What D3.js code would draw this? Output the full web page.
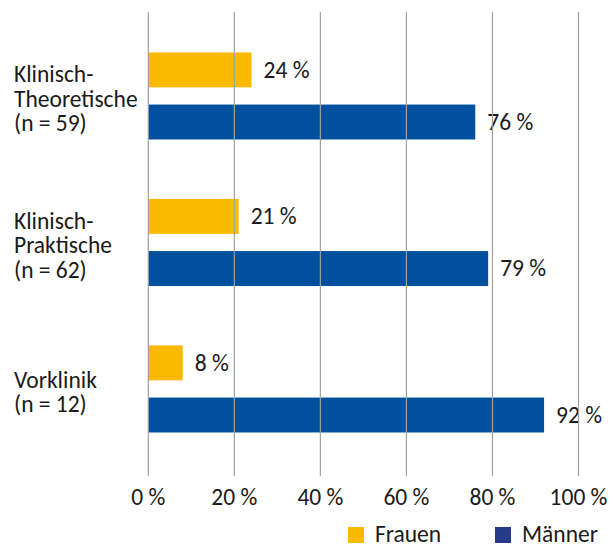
<!DOCTYPE html>
<html>
<head>
<meta charset="utf-8">
<script src="https://cdn.jsdelivr.net/npm/d3@7"></script>
<style>
  body { margin: 0; background: #fff; }
  svg text { font-family: Carlito, Calibri, Lato, sans-serif; fill: #1a1a1a; }
</style>
</head>
<body>
<div id="chart"></div>
<script>
// Data
const categories = ["Klinisch-Theoretische", "Klinisch-Praktische", "Vorklinik"];
const categoryLines = [
  ["Klinisch-", "Theoretische", "(n = 59)"],
  ["Klinisch-", "Praktische", "(n = 62)"],
  ["Vorklinik", "(n = 12)"]
];
const seriesNames = ["Frauen", "Männer"];
const frauen = [24, 21, 8];
const maenner = [76, 79, 92];
const xTicks = [0, 20, 40, 60, 80, 100];

const barColors = { "Frauen": "#fbb900", "Männer": "#00509e" };
const legendColors = { "Frauen": "#fbb900", "Männer": "#283a8c" };

const width = 613, height = 546;
const fontSize = "23.5px";

const svg = d3.select("#chart").append("svg")
  .attr("width", width)
  .attr("height", height);

const xScale = d3.scaleLinear()
  .domain([0, 100])
  .range([148.3, 578.5]);

const yScale = d3.scaleBand()
  .domain(categories)
  .range([22.7, 462.2]);

const yInner = d3.scaleBand()
  .domain(seriesNames)
  .range([0, yScale.bandwidth()])
  .paddingInner(0.33)
  .paddingOuter(0.57);

const gridTop = 12, gridBottom = 476;

// Rows of data
const rows = categories.map((c, i) => ({
  cat: c,
  values: [
    { name: "Frauen", value: frauen[i] },
    { name: "Männer", value: maenner[i] }
  ]
}));

// Bars
const groups = svg.selectAll(".group")
  .data(rows)
  .enter().append("g")
    .attr("class", "group")
    .attr("transform", d => `translate(0 ${ yScale(d.cat) })`);

groups.selectAll("rect.bar")
  .data(d => d.values)
  .enter().append("rect")
    .attr("class", "bar")
    .attr("x", xScale(0))
    .attr("y", d => yInner(d.name))
    .attr("width", d => xScale(d.value) - xScale(0))
    .attr("height", yInner.bandwidth())
    .attr("fill", d => barColors[d.name]);

// Gridlines over the bars
svg.append("g")
  .selectAll("line")
  .data(xTicks)
  .enter().append("line")
    .attr("x1", d => xScale(d))
    .attr("x2", d => xScale(d))
    .attr("y1", gridTop)
    .attr("y2", gridBottom)
    .attr("stroke", "#a0a0a0")
    .attr("stroke-width", 1.2);

// Value labels with white box behind
const labels = groups.selectAll("g.lbl")
  .data(d => d.values)
  .enter().append("g")
    .attr("class", "lbl")
    .attr("transform", d => `translate(${ xScale(d.value) + 12 } ${ yInner(d.name) + yInner.bandwidth() / 2 })`);

labels.append("text")
  .attr("x", 0)
  .attr("y", 0)
  .attr("dy", "0.33em")
  .style("font-size", fontSize)
  .text(d => d.value + " %");

labels.each(function() {
  const g = d3.select(this);
  const bb = g.select("text").node().getBBox();
  g.insert("rect", "text")
    .attr("x", bb.x - 5)
    .attr("y", -21)
    .attr("width", bb.width + 8)
    .attr("height", 42)
    .attr("fill", "#fff");
});

// Category labels
rows.forEach((r, i) => {
  const lines = categoryLines[i];
  const center = yScale(r.cat) + yScale.bandwidth() / 2 + 11;
  const t = svg.append("text")
    .attr("x", 14)
    .style("font-size", fontSize);
  lines.forEach((ln, j) => {
    t.append("tspan")
      .attr("x", 14)
      .attr("y", center + (j - (lines.length - 1) / 2) * 24.5)
      .text(ln);
  });
});

// X tick labels
svg.append("g")
  .selectAll("text")
  .data(xTicks)
  .enter().append("text")
    .attr("x", d => xScale(d))
    .attr("y", 505)
    .attr("text-anchor", "middle")
    .style("font-size", fontSize)
    .text(d => d + " %");

// Legend
const legendX = [348, 495];
const legend = svg.selectAll(".legend")
  .data(seriesNames)
  .enter().append("g")
    .attr("class", "legend")
    .attr("transform", (d, i) => `translate(${ legendX[i] } 527)`);

legend.append("rect")
  .attr("width", 16)
  .attr("height", 16)
  .attr("fill", d => legendColors[d]);

legend.append("text")
  .attr("x", 27)
  .attr("y", 14.5)
  .style("font-size", fontSize)
  .text(d => d);
</script>
</body>
</html>
